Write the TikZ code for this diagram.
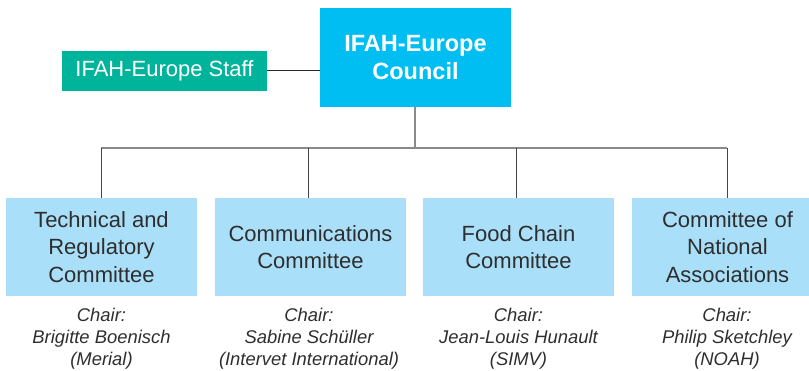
\documentclass[tikz,border=0pt]{standalone}
\usepackage{fontspec}
\setmainfont{Liberation Sans}
\definecolor{councilblue}{HTML}{00BDF2}
\definecolor{staffgreen}{HTML}{00B39B}
\definecolor{committeeblue}{HTML}{A9DFF8}
\definecolor{textgray}{HTML}{2E2E2E}
\definecolor{busgray}{HTML}{8A8A8A}
\definecolor{dropgray}{HTML}{454545}
\begin{document}
\begin{tikzpicture}[x=1pt,y=-1pt,
  councilbox/.style={fill=councilblue,inner sep=0pt,minimum width=191pt,minimum height=99pt,
    text=white,align=center,font=\fontsize{23.5}{28}\selectfont\bfseries},
  staffbox/.style={fill=staffgreen,inner sep=0pt,minimum width=205pt,minimum height=40pt,
    text=white,font=\fontsize{22}{27}\selectfont},
  committee/.style={fill=committeeblue,inner sep=0pt,minimum width=191pt,minimum height=98pt,
    text=textgray,align=center,font=\fontsize{22}{27.5}\selectfont},
  chairtext/.style={inner sep=0pt,text=textgray,align=center,anchor=north,
    font=\fontsize{18.4}{22}\selectfont\itshape},
  busline/.style={draw=busgray,line width=1.5pt},
  dropline/.style={draw=dropgray,line width=1pt},
  staffline/.style={draw=black!85,line width=1pt}]
\useasboundingbox (0,0) rectangle (809,371);

% top level
\node[councilbox] (council) at (415.5,57.5) {IFAH-Europe\\Council};
\node[staffbox] (staff) at (164.5,71) {IFAH-Europe Staff};

% committees (the last one runs past the right edge)
\node[committee] (tech) at (101.5,247) {Technical and\\Regulatory\\Committee};
\node[committee] (comm) at (310.5,247) {Communications\\Committee};
\node[committee] (food) at (518.5,247) {Food Chain\\Committee};
\node[committee] (natl) at (727.5,247) {Committee of\\National\\Associations};

% chairs
\node[chairtext] (chairtech) at (101.5,308) {Chair:\\Brigitte Boenisch\\(Merial)};
\node[chairtext] (chaircomm) at (309,308) {Chair:\\Sabine Schüller\\(Intervet International)};
\node[chairtext] (chairfood) at (518.5,308) {Chair:\\Jean-Louis Hunault\\(SIMV)};
\node[chairtext] (chairnatl) at (727,308) {Chair:\\Philip Sketchley\\(NOAH)};

% connectors
\draw[staffline] (staff.east) -- (staff.east -| council.west);
\coordinate (bus) at (415,148);
\coordinate (busleft) at (101,148);
\coordinate (busright) at (727,148);
\draw[busline] (council.south -| bus) -- (bus);
\draw[busline] (busleft) -- (busright);
\draw[dropline] (busleft) -- (busleft |- tech.north);
\draw[dropline] ([xshift=-2.5pt]comm.north |- bus) -- ([xshift=-2.5pt]comm.north);
\draw[dropline] ([xshift=-2pt]food.north |- bus) -- ([xshift=-2pt]food.north);
\draw[dropline] (busright) -- (busright |- natl.north);
\end{tikzpicture}
\end{document}
